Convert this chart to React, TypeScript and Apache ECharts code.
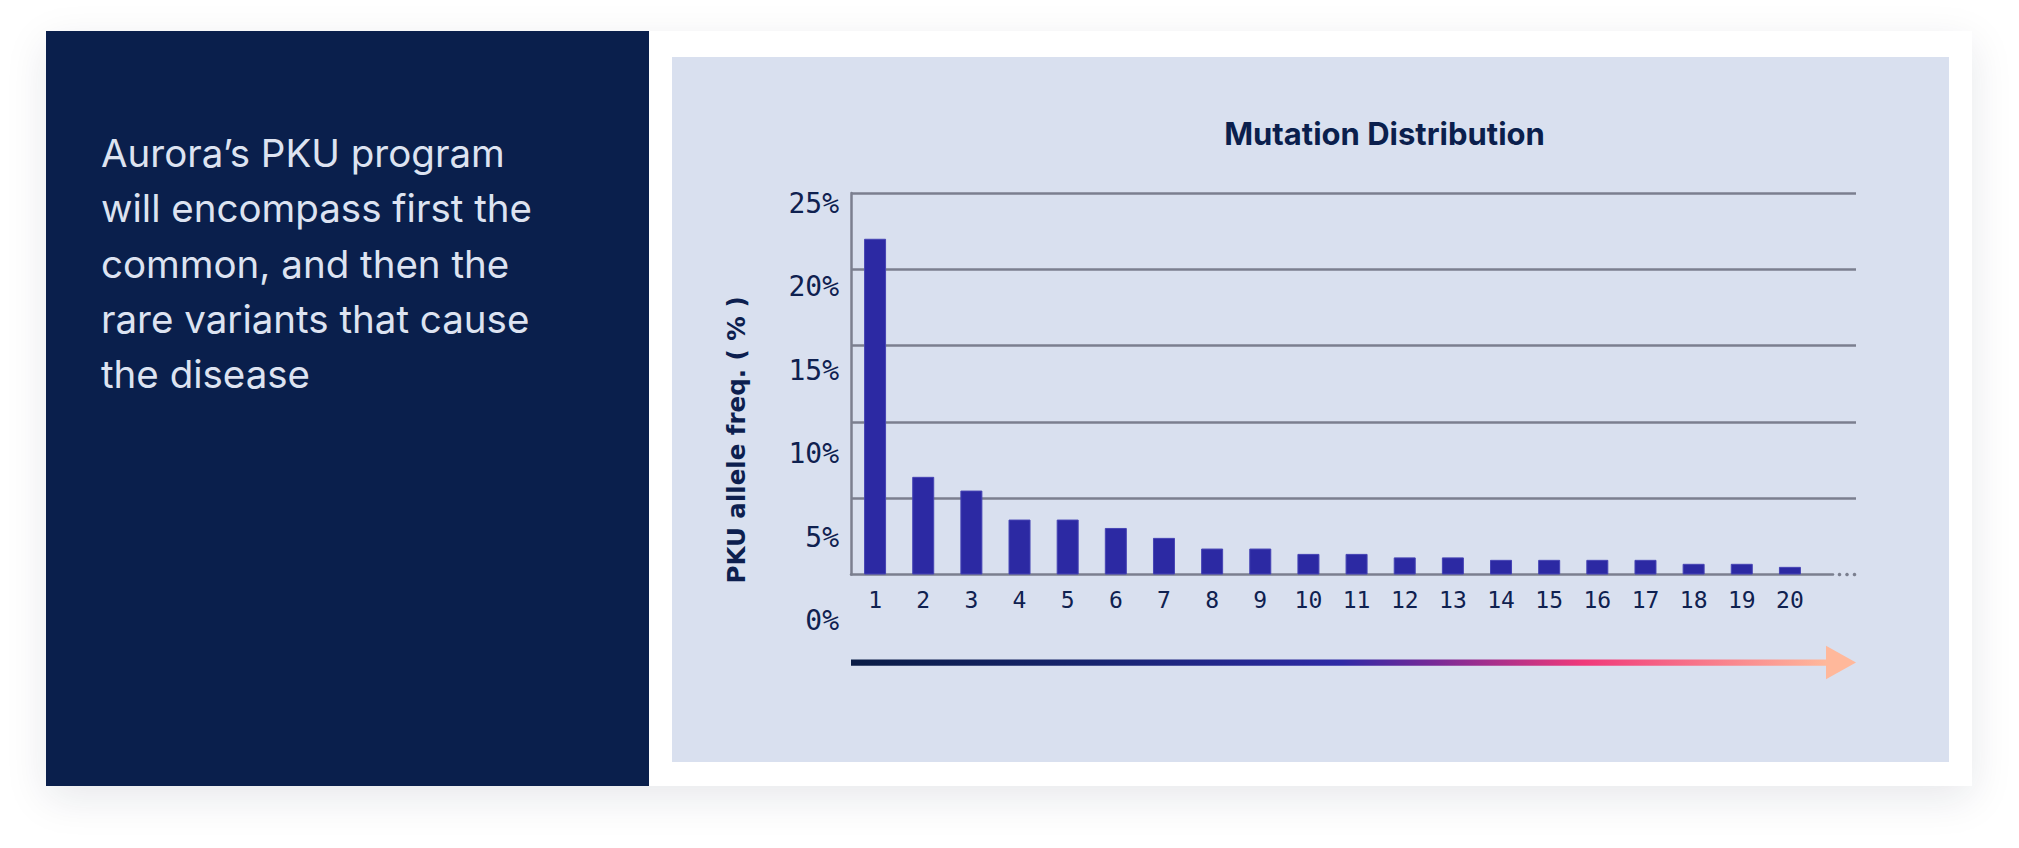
import React, { useEffect, useRef } from "react";
import * as echarts from "echarts";

const categories = ["1", "2", "3", "4", "5", "6", "7", "8", "9", "10", "11", "12", "13", "14", "15", "16", "17", "18", "19", "20"];
const alleleFreq = [22.0, 6.4, 5.5, 3.6, 3.6, 3.05, 2.4, 1.7, 1.7, 1.35, 1.35, 1.12, 1.12, 0.96, 0.96, 0.96, 0.96, 0.7, 0.7, 0.5];
const yMin = 0;
const yMax = 25;
const yStep = 5;
const paragraphLines = [
  "Aurora\u2019s PKU program",
  "will encompass first the",
  "common, and then the",
  "rare variants that cause",
  "the disease",
];
const chartTitle = "Mutation Distribution";
const yAxisName = "PKU allele freq. ( % )";

const NAVY = "#0a1f4c";
const GRID = "#7b7f8f";
const MONO = "'DejaVu Sans Mono', 'Liberation Mono', monospace";

export default function App() {
  const ref = useRef<HTMLDivElement>(null);

  useEffect(() => {
    document.body.style.margin = "0";
    const chart = echarts.init(ref.current as HTMLDivElement, null, { renderer: "svg" });
    const top = 193;
    const h = 381.5;
    const option = {
      animation: false,
      grid: [
        { left: 851, top, width: 1005, height: h },
        { left: 851, top, width: 963, height: h },
        { left: 851, top, width: 982, height: h },
        { left: 851, top: 203, width: 100, height: 417.5 },
      ],
      xAxis: [
        { gridIndex: 0, type: "category", data: [], show: false },
        {
          gridIndex: 1,
          type: "category",
          data: categories,
          axisLine: { show: false },
          axisTick: { show: false },
          axisLabel: { fontFamily: MONO, fontSize: 23, color: "#0f2150", margin: 14 },
        },
        {
          gridIndex: 2,
          type: "value",
          axisLine: { show: true, onZero: false, lineStyle: { color: GRID, width: 2.5 } },
          axisTick: { show: false },
          axisLabel: { show: false },
          splitLine: { show: false },
        },
        { gridIndex: 3, type: "category", data: [], show: false },
      ],
      yAxis: [
        {
          gridIndex: 0,
          type: "value",
          min: yMin,
          max: yMax,
          interval: yStep,
          axisLine: { show: true, onZero: false, lineStyle: { color: GRID, width: 2.5 } },
          axisTick: { show: false },
          axisLabel: { show: false },
          splitLine: { show: true, showMinLine: false, lineStyle: { color: GRID, width: 2.5 } },
        },
        { gridIndex: 1, type: "value", min: yMin, max: yMax, show: false },
        { gridIndex: 2, type: "value", min: yMin, max: yMax, show: false },
        {
          gridIndex: 3,
          type: "value",
          min: yMin,
          max: yMax,
          interval: yStep,
          axisLine: { show: false },
          axisTick: { show: false },
          splitLine: { show: false },
          axisLabel: {
            formatter: "{value}%",
            fontFamily: MONO,
            fontSize: 28,
            color: "#0f2150",
            margin: 12,
          },
        },
      ],
      series: [
        {
          type: "bar",
          xAxisIndex: 1,
          yAxisIndex: 1,
          data: alleleFreq,
          barWidth: 22,
          itemStyle: { color: "#2c29a3", borderColor: "#4644b4", borderWidth: 1 },
        },
      ],
      graphic: [
        {
          type: "text",
          left: 101,
          top: 125,
          style: {
            text: paragraphLines.join("\n"),
            fill: "#dde3f1",
            fontFamily: "Inter, 'Noto Sans', sans-serif",
            fontSize: 38.5,
            lineHeight: 55.4,
          },
        },
        {
          type: "text",
          x: 1384.5,
          y: 133,
          style: {
            text: chartTitle,
            fill: "#0b1f4d",
            fontFamily: "Inter, 'Noto Sans', sans-serif",
            fontWeight: "bold",
            fontSize: 31,
            align: "center",
            verticalAlign: "middle",
          },
        },
        {
          type: "text",
          x: 736,
          y: 440,
          rotation: Math.PI / 2,
          style: {
            text: yAxisName,
            fill: "#0d1f4f",
            fontFamily: "'DejaVu Sans', 'Liberation Sans', sans-serif",
            fontWeight: "bold",
            fontSize: 24.5,
            align: "center",
            verticalAlign: "middle",
          },
        },
        { type: "circle", shape: { cx: 1839.5, cy: 574.5, r: 1.8 }, style: { fill: GRID } },
        { type: "circle", shape: { cx: 1847, cy: 574.5, r: 1.8 }, style: { fill: GRID } },
        { type: "circle", shape: { cx: 1854.5, cy: 574.5, r: 1.8 }, style: { fill: GRID } },
        {
          type: "rect",
          shape: { x: 851, y: 659.4, width: 977, height: 6.3 },
          style: {
            fill: {
              type: "linear",
              x: 0,
              y: 0,
              x2: 1,
              y2: 0,
              colorStops: [
                { offset: 0, color: "#0a1c45" },
                { offset: 0.25, color: "#17246f" },
                { offset: 0.5, color: "#2e2aa6" },
                { offset: 0.6, color: "#7a2a96" },
                { offset: 0.75, color: "#f0397a" },
                { offset: 1, color: "#ffb99b" },
              ],
            },
          },
        },
        {
          type: "polygon",
          shape: { points: [[1826, 645.7], [1856, 662.5], [1826, 679.3]] },
          style: { fill: "#ffb89b" },
        },
      ],
    };
    chart.setOption(option as any);
    return () => chart.dispose();
  }, []);

  return (
    <div style={{ position: "relative", width: 2019, height: 848, background: "#ffffff", overflow: "hidden" }}>
      <div
        style={{
          position: "absolute",
          left: 46,
          top: 31,
          width: 1926,
          height: 755,
          background: "#ffffff",
          boxShadow: "0 12px 40px rgba(20,30,60,0.10)",
        }}
      />
      <div style={{ position: "absolute", left: 46, top: 31, width: 603, height: 755, background: NAVY }} />
      <div style={{ position: "absolute", left: 672, top: 57, width: 1277, height: 705, background: "#d9e0ef" }} />
      <div ref={ref} style={{ position: "absolute", left: 0, top: 0, width: 2019, height: 848 }} />
    </div>
  );
}
